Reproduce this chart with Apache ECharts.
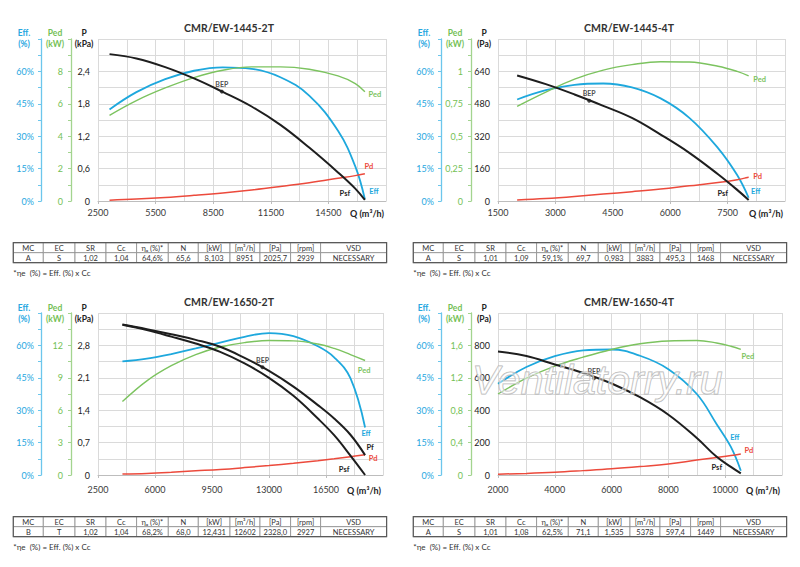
<!DOCTYPE html>
<html lang="ru">
<head>
<meta charset="UTF-8">
<title>CMR/EW</title>
<script src="https://cdn.jsdelivr.net/npm/echarts@6/dist/echarts.min.js"></script>
<style>
    html, body { margin: 0; padding: 0; background: #fff; }
    #main { width: 800px; height: 567px; }
</style>
</head>
<body>
<div id="main"></div>
<script type="text/javascript">
// ---- CMR/EW-1445-2T (P в кПа)
var q1   = [3100, 4500, 6000, 7500, 9000, 10500, 12000, 13500, 15000, 15900, 16400];
var psf1 = [2.72, 2.64, 2.48, 2.27, 2.02, 1.75, 1.41, 0.99, 0.53, 0.23, 0.02];
var eff1 = [42.4, 50.4, 56.4, 60.3, 61.9, 61.2, 57.3, 48.8, 32.5, 16, 0.8];
var ped1 = [5.29, 6.2, 6.98, 7.62, 8.07, 8.28, 8.28, 8.13, 7.72, 7.25, 6.75];
var pd1  = [0.015, 0.035, 0.065, 0.105, 0.15, 0.205, 0.27, 0.34, 0.42, 0.47, 0.505];
var xRange1 = [2500, 17500, 3000];
var pRange1 = [0, 3.0, 0.6];
var pedRange1 = [0, 10, 2];
var row1 = ['A', 'S', '1,02', '1,04', '64,6%', '65,6', '8,103', '8951', '2025,7', '2939', 'NECESSARY'];

// ---- CMR/EW-1445-4T (P в Па)
var q2   = [2000, 2750, 3500, 4250, 5000, 5750, 6500, 7250, 7750, 8050];
var psf2 = [620, 577, 526, 470, 410, 328, 238, 132, 55, 5];
var eff2 = [47.0, 51.3, 53.8, 54.4, 52.6, 47.5, 38.5, 24.5, 12, 1.5];
var ped2 = [0.73, 0.84, 0.94, 1.01, 1.052, 1.075, 1.072, 1.04, 1.0, 0.965];
var pd2  = [5, 12, 22, 34, 46, 59, 75, 91, 105, 118];
var xRange2 = [1500, 9000, 1500];
var pRange2 = [0, 800, 160];
var pedRange2 = [0, 1.25, 0.25];
var row2 = ['A', 'S', '1,01', '1,09', '59,1%', '69,7', '0,983', '3883', '495,3', '1468', 'NECESSARY'];

// ---- CMR/EW-1650-2T (P в кПа)
var q3   = [4000, 5500, 7000, 8500, 10000, 11500, 13000, 14500, 16000, 17000, 18000, 18900];
var pf3  = [3.25, 3.15, 3.04, 2.92, 2.77, 2.53, 2.25, 1.91, 1.51, 1.22, 0.87, 0.43];
var psf3 = [3.245, 3.13, 2.99, 2.84, 2.66, 2.41, 2.10, 1.71, 1.22, 0.86, 0.42, 0];
var eff3 = [52.6, 53.9, 56.0, 58.6, 61.3, 64.0, 65.7, 64.3, 59.6, 54.5, 44.8, 22];
var ped3 = [6.8, 8.72, 10.12, 11.15, 11.85, 12.26, 12.45, 12.42, 12.13, 11.72, 11.15, 10.6];
var pd3  = [0.02, 0.035, 0.06, 0.09, 0.12, 0.16, 0.205, 0.255, 0.31, 0.35, 0.395, 0.435];
var xRange3 = [2500, 20000, 3500];
var pRange3 = [0, 3.5, 0.7];
var pedRange3 = [0, 15, 3];
var row3 = ['B', 'T', '1,02', '1,04', '68,2%', '68,0', '12,431', '12602', '2328,0', '2927', 'NECESSARY'];

// ---- CMR/EW-1650-4T (P в Па)
var q4   = [2000, 3000, 4000, 5000, 6000, 7000, 8000, 9000, 9700, 10200, 10550];
var psf4 = [762, 734, 682, 630, 565, 480, 372, 228, 112, 50, 10];
var eff4 = [42.2, 50, 55, 57.7, 58.1, 55.2, 49, 37.5, 23.5, 13, 2];
var ped4 = [1.0, 1.195, 1.345, 1.455, 1.55, 1.62, 1.655, 1.66, 1.63, 1.59, 1.55];
var pd4  = [5, 10, 17, 27, 38, 52, 68, 92, 108, 120, 130];
var xRange4 = [2000, 12000, 2000];
var pRange4 = [0, 1000, 200];
var pedRange4 = [0, 2.0, 0.4];
var row4 = ['A', 'S', '1,01', '1,08', '62,5%', '71,1', '1,535', '5378', '597,4', '1449', 'NECESSARY'];

var effRange = [0, 75, 15];
var titles = ['CMR/EW-1445-2T', 'CMR/EW-1445-4T', 'CMR/EW-1650-2T', 'CMR/EW-1650-4T'];
var units = ['kPa', 'Pa', 'kPa', 'Pa'];
var tableHead = ['MC', 'EC', 'SR', 'Cc', 'ηₑ (%)*', 'N', '[kW]', '[m³/h]', '[Pa]', '[rpm]', 'VSD'];
var footnote = '*ηe  (%) = Eff. (%) x Cc';

// ---- раскладка
var ox = [0, 400, 0, 400];
var oy = [0, 0, 274, 274];
var gridW = [288, 287, 285, 284];
var colEdges = [0, 30, 61.7, 92.7, 123.3, 155, 185, 216.7, 246.7, 277.3, 307.3, 373.3];

var C_BLACK = '#1e1e1e', C_BLUE = '#1ea8dd', C_GREEN = '#7cc35f', C_RED = '#ec4a3c';
var FONT = 'Lato, "Open Sans", "DejaVu Sans", sans-serif';

function pairs(q, v) { return q.map(function (x, i) { return [x, v[i]]; }); }
function num(s) { return parseFloat(s.replace(',', '.')); }
function comma(v) { return String(v).replace('.', ','); }

var panels = [
    { q: q1, xr: xRange1, pr: pRange1, pedr: pedRange1, row: row1, curves: [
        { name: 'Psf', y: 'p', data: psf1, color: C_BLACK, w: 2, off: [-20, -6] },
        { name: 'Eff', y: 'eff', data: eff1, color: C_BLUE, w: 1.8, off: [9, -8] },
        { name: 'Ped', y: 'ped', data: ped1, color: C_GREEN, w: 1.4, off: [10, 3] },
        { name: 'Pd', y: 'p', data: pd1, color: C_RED, w: 1.5, off: [4, -7] }
    ]},
    { q: q2, xr: xRange2, pr: pRange2, pedr: pedRange2, row: row2, curves: [
        { name: 'Psf', y: 'p', data: psf2, color: C_BLACK, w: 2, off: [-26, -6] },
        { name: 'Eff', y: 'eff', data: eff2, color: C_BLUE, w: 1.8, off: [7, -6] },
        { name: 'Ped', y: 'ped', data: ped2, color: C_GREEN, w: 1.4, off: [11, 4] },
        { name: 'Pd', y: 'p', data: pd2, color: C_RED, w: 1.5, off: [9, -1] }
    ]},
    { q: q3, xr: xRange3, pr: pRange3, pedr: pedRange3, row: row3, curves: [
        { name: 'Pf', y: 'p', data: pf3, color: C_BLACK, w: 2, off: [5, -8] },
        { name: 'Psf', y: 'p', data: psf3, color: C_BLACK, w: 2, off: [-21, -6] },
        { name: 'Eff', y: 'eff', data: eff3, color: C_BLUE, w: 1.8, off: [1, 6] },
        { name: 'Ped', y: 'ped', data: ped3, color: C_GREEN, w: 1.4, off: [-1, 10] },
        { name: 'Pd', y: 'p', data: pd3, color: C_RED, w: 1.5, off: [8, 4] }
    ]},
    { q: q4, xr: xRange4, pr: pRange4, pedr: pedRange4, row: row4, curves: [
        { name: 'Psf', y: 'p', data: psf4, color: C_BLACK, w: 2, off: [-24, -6] },
        { name: 'Eff', y: 'eff', data: eff4, color: C_BLUE, w: 1.8, off: [-6, -33] },
        { name: 'Ped', y: 'ped', data: ped4, color: C_GREEN, w: 1.4, off: [7, 7] },
        { name: 'Pd', y: 'p', data: pd4, color: C_RED, w: 1.5, off: [8, -3] }
    ]}
];

var gridLine = { show: true, lineStyle: { color: '#dadada', width: 1 } };

var option = {
    animation: false,
    backgroundColor: '#fff',
    grid: [], xAxis: [], yAxis: [], series: [], graphic: []
};

function sideAxis(i, range, offset, color, labelColor, fmt, margin) {
    return {
        type: 'value', gridIndex: i, position: 'left', offset: offset,
        min: range[0], max: range[1], interval: range[2],
        axisLine: { show: true, onZero: false, lineStyle: { color: color, width: 1.3 } },
        axisTick: { show: true, length: 3, lineStyle: { color: color } },
        minorTick: { show: true, splitNumber: 2, length: 3, lineStyle: { color: color } },
        axisLabel: { fontSize: 9, color: labelColor, fontFamily: FONT, margin: margin,
            showMaxLabel: false, formatter: fmt },
        splitLine: { show: false }
    };
}

panels.forEach(function (p, i) {
    var L = ox[i] + 98, T = oy[i] + 39;
    option.grid.push({ left: L, top: T, width: gridW[i], height: 162, outerBoundsMode: 'none' });

    option.xAxis.push({
        type: 'value', gridIndex: i,
        min: p.xr[0], max: p.xr[1], interval: p.xr[2],
        axisLine: { show: true, onZero: false, lineStyle: { color: '#bdbdbd' } },
        axisTick: { show: true, length: 3, lineStyle: { color: '#bdbdbd' } },
        axisLabel: { fontSize: 9, color: '#3a3a3a', fontFamily: FONT, margin: i < 2 ? 7 : 10,
            showMaxLabel: false, formatter: function (v) { return String(v); } },
        splitLine: gridLine,
        minorTick: { show: false, splitNumber: 2 },
        minorSplitLine: gridLine
    });

    var base = option.yAxis.length;
    option.yAxis.push({
        type: 'value', gridIndex: i, position: 'left', offset: 0,
        min: p.pr[0], max: p.pr[1], interval: p.pr[2],
        axisLine: { show: false }, axisTick: { show: false },
        axisLabel: { fontSize: 9, color: '#222', fontFamily: FONT, margin: 8, showMaxLabel: false, formatter: comma },
        splitLine: gridLine,
        minorTick: { show: false, splitNumber: 2 },
        minorSplitLine: gridLine
    });
    option.yAxis.push(sideAxis(i, p.pedr, 27, '#a3d48f', '#74bf55', comma, 8));
    option.yAxis.push(sideAxis(i, effRange, 57, '#6cc6ec', '#27a7df', function (v) { return v + '%'; }, 7));
    var yIdx = { p: base, ped: base + 1, eff: base + 2 };

    p.curves.forEach(function (c) {
        var data = pairs(p.q, c.data);
        option.series.push({
            type: 'line', name: c.name,
            xAxisIndex: i, yAxisIndex: yIdx[c.y],
            data: data, smooth: 0.4,
            symbol: 'none', showSymbol: false,
            lineStyle: { color: c.color, width: c.w },
            itemStyle: { color: c.color },
            z: c.color === C_BLACK ? 4 : 3,
            markPoint: {
                symbol: 'circle', symbolSize: 1, silent: true,
                itemStyle: { color: 'rgba(0,0,0,0)' },
                data: [{ coord: data[data.length - 1] }],
                label: { show: true, position: 'inside', offset: c.off, formatter: c.name,
                    color: c.color, fontSize: 7.5, fontWeight: 'bold', fontFamily: FONT }
            }
        });
    });

    // точка BEP по данным таблицы
    var scale = units[i] === 'kPa' ? 1000 : 1;
    option.series.push({
        type: 'scatter', name: 'BEP', xAxisIndex: i, yAxisIndex: base,
        data: [[num(p.row[7]), num(p.row[8]) / scale]],
        symbolSize: 4, itemStyle: { color: C_BLACK }, z: 6,
        label: { show: true, formatter: 'BEP', position: 'top', distance: 2,
            fontSize: 7, fontWeight: 'bold', color: '#222', fontFamily: FONT }
    });

    // заголовок, подписи осей
    var g = option.graphic;
    g.push({ type: 'text', x: ox[i] + 229, y: oy[i] + 28,
        style: { text: titles[i], align: 'center', verticalAlign: 'middle', fontSize: 10.5,
            fontWeight: 'bold', fill: '#333', fontFamily: FONT } });
    var ay = oy[i] + (i < 2 ? 38.8 : 39.8);
    [['Eff.\n(%)', 24, '#27a7df'], ['Ped\n(kW)', 55, '#74bf55'], ['P\n(' + units[i] + ')', 84, '#222']]
        .forEach(function (t) {
            g.push({ type: 'text', x: ox[i] + t[1], y: ay,
                style: { text: t[0], align: 'center', verticalAlign: 'middle', lineHeight: 11,
                    fontSize: 8.5, fontWeight: 'bold', fill: t[2], fontFamily: FONT } });
        });
    g.push({ type: 'text', x: L + gridW[i] - 2, y: T + 162 + (i < 2 ? 12.6 : 15),
        style: { text: 'Q (m³/h)', align: 'right', verticalAlign: 'middle', fontSize: 9,
            fontWeight: 'bold', fill: '#222', fontFamily: FONT } });

    // таблица под графиком
    var kids = [];
    for (var k = 0; k < colEdges.length - 1; k++) {
        var cx = colEdges[k], cw = colEdges[k + 1] - colEdges[k];
        [tableHead[k], p.row[k]].forEach(function (txt, r) {
            kids.push({ type: 'rect', shape: { x: cx, y: r * 10, width: cw, height: 10 },
                style: { fill: '#fff', stroke: '#8c8c8c', lineWidth: 0.8 } });
            kids.push({ type: 'text', x: cx + cw / 2, y: r * 10 + 5.3,
                style: { text: txt, align: 'center', verticalAlign: 'middle', fontSize: 7.5,
                    fill: '#333', fontFamily: FONT } });
        });
    }
    kids.push({ type: 'rect', shape: { x: 0, y: 0, width: colEdges[colEdges.length - 1], height: 20 },
        style: { fill: 'none', stroke: '#5a5a5a', lineWidth: 1.2 } });
    kids.push({ type: 'text', x: 0, y: 30.5,
        style: { text: footnote, align: 'left', verticalAlign: 'middle', fontSize: 8,
            fill: '#333', fontFamily: FONT } });
    g.push({ type: 'group', x: ox[i] + 13.3, y: oy[i] + 242.7, children: kids });
});

// водяной знак на нижнем правом графике
option.graphic.push({ type: 'text', x: 472, y: 380, z: 100, silent: true,
    style: { text: 'Ventilatorry.ru', align: 'left', verticalAlign: 'middle', fontSize: 41,
        fontStyle: 'italic', fontFamily: '"Liberation Sans", Arial, sans-serif',
        fill: 'rgba(255,255,255,0.45)', stroke: '#b4b4b4', lineWidth: 1 } });

var myChart = echarts.init(document.getElementById('main'), null, { renderer: 'svg' });
myChart.setOption(option);
</script>
</body>
</html>
